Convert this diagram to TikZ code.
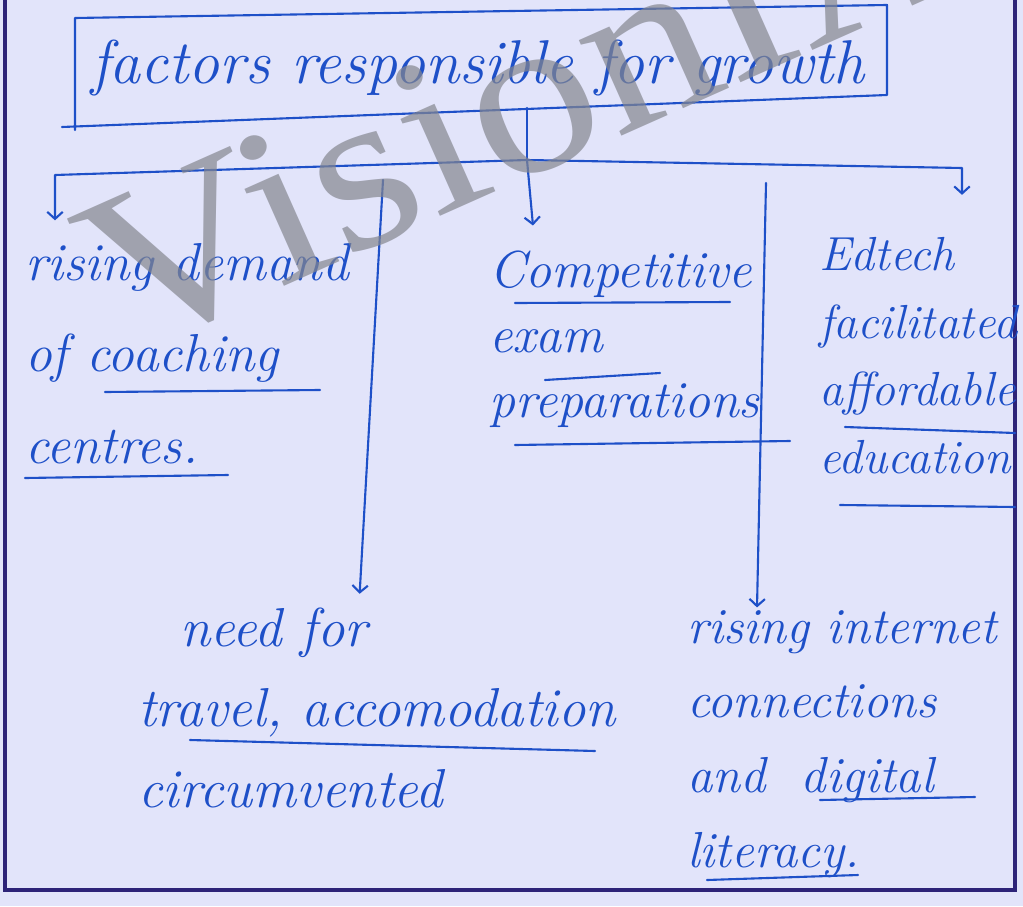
\documentclass[tikz,border=0pt]{standalone}
\usepackage{fontspec}
\newfontfamily\markfont{Liberation Serif}
\usetikzlibrary{arrows.meta,positioning,calc}
\definecolor{paper}{RGB}{226,228,250}
\definecolor{ink}{RGB}{30,80,200}
\definecolor{rule}{RGB}{45,35,120}
\definecolor{mark}{RGB}{132,134,143}
\tikzset{
  inkline/.style={draw=ink, line width=1.5pt, line cap=round, line join=round},
  note/.style={text=ink, inner sep=2pt, align=left, anchor=base west},
}
\begin{document}
\begin{tikzpicture}[x=0.025cm, y=-0.025cm, >={Straight Barb[length=5pt,width=11pt]}]
\useasboundingbox (0,0) rectangle (1023,906);
\fill[paper] (0,0) rectangle (1023,906);
% page rules
\draw[rule, line width=3pt] (5,0) -- (5,890) -- (1015,890) -- (1015,0);

% heading
\node[note, font=\itshape\fontsize{44}{44}\selectfont] (title) at (88,84) {factors responsible for growth};
\draw[inkline] (62,127) -- (887,95) -- (887,5) -- (75,18) -- (75,130);

% branches (anchor = baseline of last line)
\node[note, font=\itshape\fontsize{38}{65}\selectfont] (demand) at (22,463) {rising demand\\of coaching\\centres.};
\node[note, font=\itshape\fontsize{37}{46}\selectfont] (exam) at (486,417) {Competitive\\exam\\preparations};
\node[note, font=\itshape\fontsize{34}{48}\selectfont] (edtech) at (816,473) {Edtech\\facilitated\\affordable\\education};
\node[note, font=\itshape\fontsize{39}{57}\selectfont] (travel) at (135,807) {\hspace*{30pt}need for\\travel, accomodation\\circumvented};
\node[note, font=\itshape\fontsize{36}{53}\selectfont] (internet) at (684,867) {rising internet\\connections\\and\hspace*{0.7em}digital\\literacy.};

% underlines
\draw[inkline] (105,392) -- (320,390);
\draw[inkline] (25,478) -- (228,475);
\draw[inkline] (515,303) -- (730,302);
\draw[inkline] (545,380) -- (660,373);
\draw[inkline] (515,445) -- (790,441);
\draw[inkline] (845,427) -- (1015,433);
\draw[inkline] (840,505) -- (1015,507);
\draw[inkline] (190,740) -- (595,751);
\draw[inkline] (820,800) -- (975,797);
\draw[inkline] (707,880) -- (858,875);

% connectors
\coordinate (tbot) at (527,108);
\coordinate (junc) at (527,160);
\coordinate (barL) at (55,175);
\coordinate (barR) at (962,168);
\coordinate (divL) at (383,180);
\coordinate (divR) at (766,183);
\coordinate (tipL) at (359,0);
\coordinate (tipR) at (757,0);
\coordinate (tipM) at (535,0);

\draw[inkline] (tbot) -- (junc);
\draw[inkline, ->, shorten >=14pt] (junc) -- (barL) -- (barL |- demand.north);
\draw[inkline, ->, shorten >=16pt] (junc) -- (tipM |- exam.north);
\draw[inkline, ->, shorten >=28pt] (junc) -- (barR) -- (barR |- edtech.north);
\draw[inkline, ->, shorten >=8pt] (divL) -- (tipL |- travel.north);
\draw[inkline, ->] (divR) -- (tipR |- internet.north);

% watermark
\begin{scope}
\clip (0,0) rectangle (1023,906);
\node[text=mark, opacity=0.7, font=\markfont\fontsize{162}{162}\selectfont, rotate=24, xscale=1.12, anchor=base west, inner sep=0pt] (wm) at (125,357) {VisionIAS};
\end{scope}
\end{tikzpicture}
\end{document}
